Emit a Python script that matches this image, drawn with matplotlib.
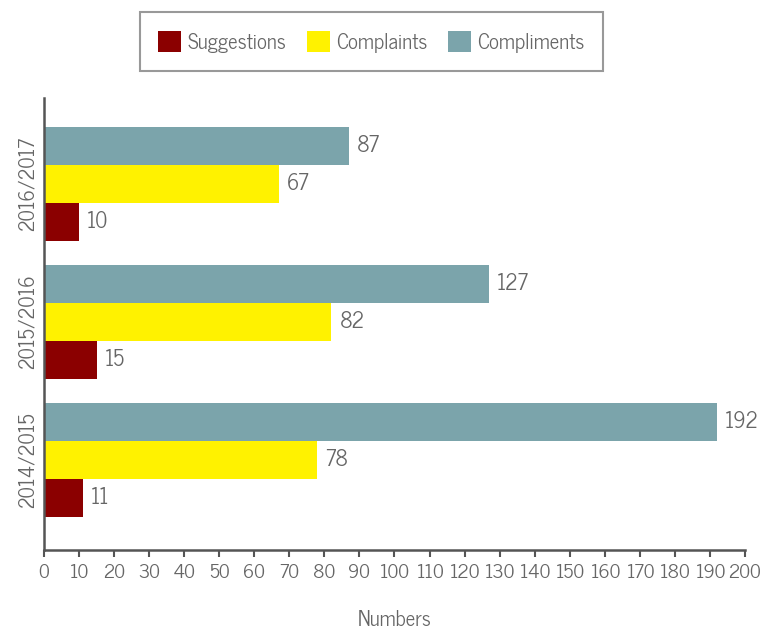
import numpy as np
import matplotlib
matplotlib.use("Agg")
from matplotlib import pyplot as plt
from matplotlib.patches import Patch

plt.rcParams["font.family"] = ["News Cycle", "DejaVu Sans"]

years = ["2014/2015", "2015/2016", "2016/2017"]
suggestions = [11, 15, 10]
complaints = [78, 82, 67]
compliments = [192, 127, 87]

series = [
    ("Suggestions", suggestions, "#8b0000"),
    ("Complaints", complaints, "#fff200"),
    ("Compliments", compliments, "#7ba4ab"),
]

text_grey = "#666666"
axis_grey = "#555555"

fig = plt.figure(figsize=(7.74, 6.32), dpi=100)
ax = fig.add_axes([0.0568, 0.1297, 0.9057, 0.7153])

y = np.arange(len(years))
h = 0.275
for i, (name, vals, col) in enumerate(series):
    pos = y + (i - 1) * h
    bars = ax.barh(pos, vals, height=h, color=col, label=name)
    for b, v in zip(bars, vals):
        ax.text(b.get_width() + 2.3, b.get_y() + b.get_height() / 2, str(v),
                va="center", ha="left", fontsize=15.5, color=text_grey)

ax.set_xlim(0, 200)
ax.set_ylim(-0.65, 2.62)
ax.set_xticks(np.arange(0, 201, 10))
ax.set_yticks(y)
ax.set_yticklabels(years, rotation=90, va="center")
ax.tick_params(axis="x", direction="out", length=5, width=1.5, color=axis_grey,
               labelsize=14, labelcolor=text_grey, pad=5)
ax.tick_params(axis="y", length=0, labelsize=14.5, labelcolor=text_grey, pad=5)

for s in ["top", "right"]:
    ax.spines[s].set_visible(False)
for s in ["left", "bottom"]:
    ax.spines[s].set_color(axis_grey)
    ax.spines[s].set_linewidth(1.8)

ax.set_xlabel("Numbers", fontsize=15, color=text_grey, labelpad=20)

handles = [Patch(facecolor=c, label=n) for n, _, c in series]
leg = fig.legend(handles=handles, loc="center", bbox_to_anchor=(0.48, 0.934),
                 ncol=3, frameon=True, fancybox=False, fontsize=15,
                 handlelength=1.1, handleheight=1.2, handletextpad=0.3,
                 columnspacing=1.0, borderpad=0.9, labelcolor=text_grey)
leg.get_frame().set_edgecolor("#808080")
leg.get_frame().set_linewidth(1.5)

fig.savefig("out.png", dpi=100)
